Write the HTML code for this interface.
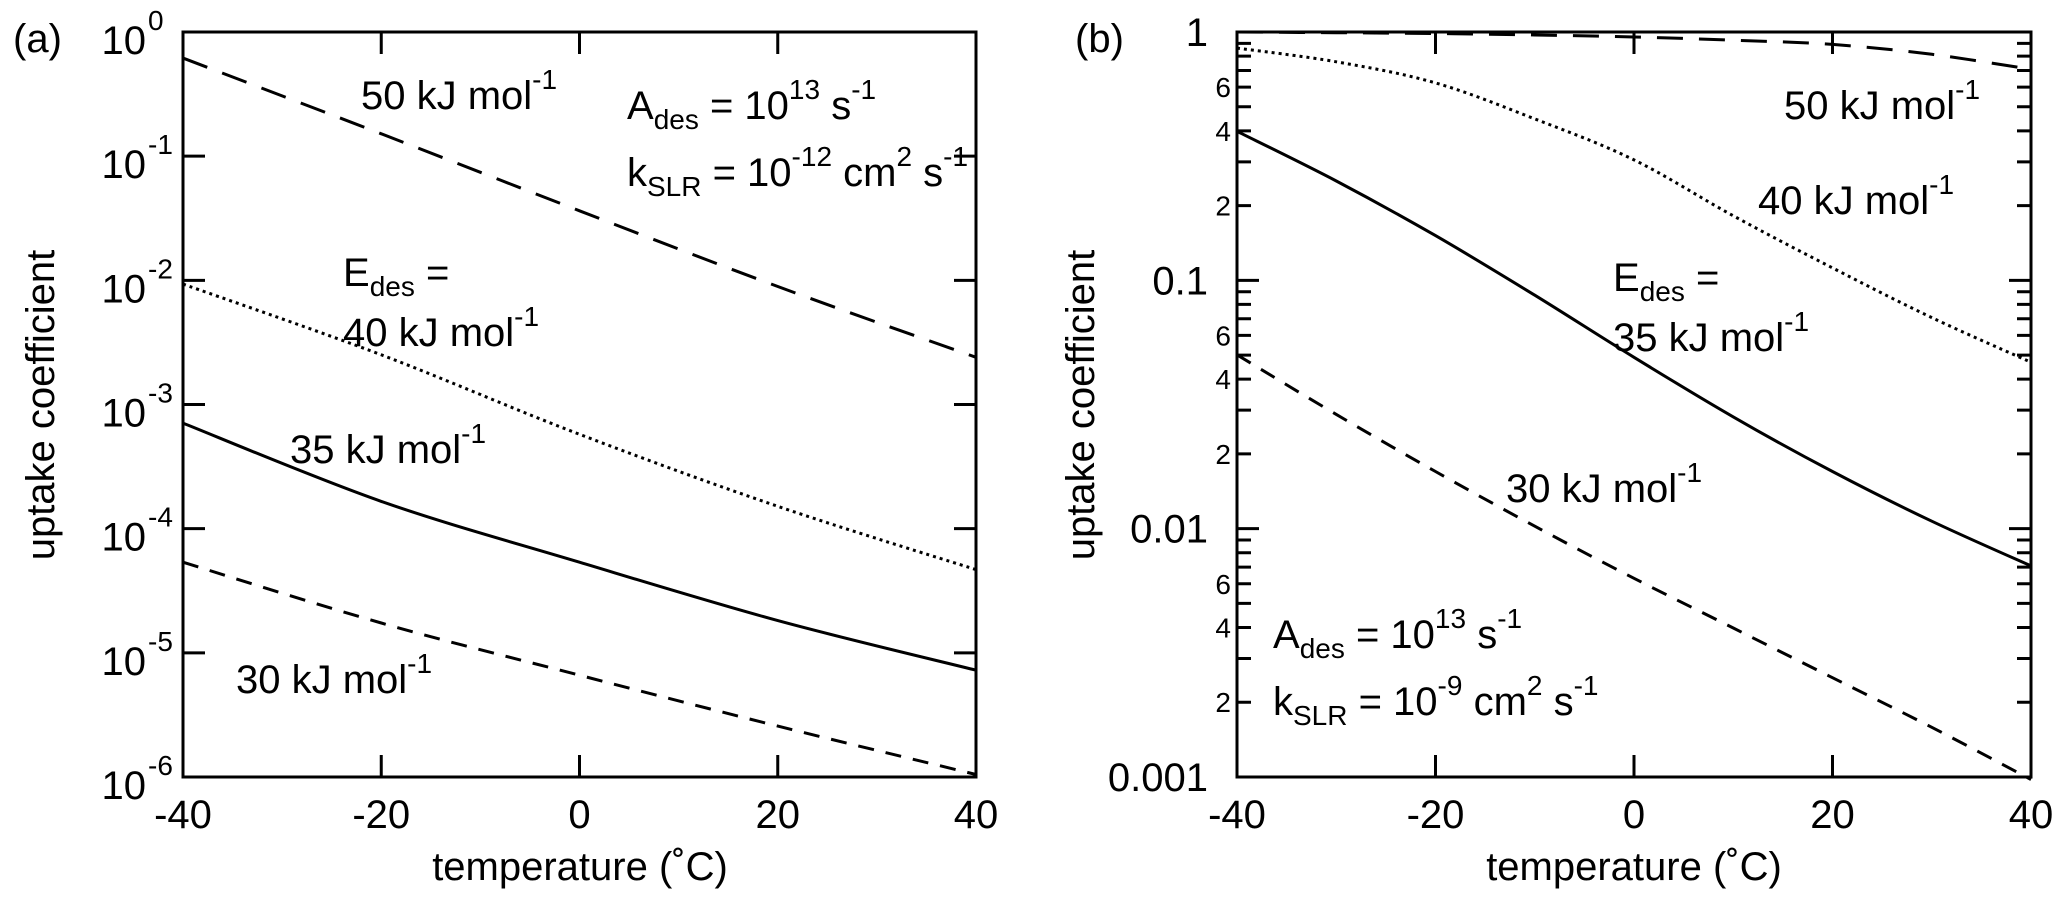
<!DOCTYPE html>
<html><head><meta charset="utf-8"><style>
html,body{margin:0;padding:0;background:#fff;}
svg{display:block;font-family:"Liberation Sans",sans-serif;}
</style></head><body>
<svg id="chart" width="2067" height="900" viewBox="0 0 2067 900" xmlns="http://www.w3.org/2000/svg"></svg>
<script>
// ---- data ----
const temps = [-40, -20, 0, 20, 40];
const aE50 = [-0.21, -0.82, -1.44, -2.05, -2.62];
const aE40 = [-2.03, -2.60, -3.24, -3.82, -4.33];
const aE35 = [-3.15, -3.78, -4.27, -4.74, -5.14];
const aE30 = [-4.27, -4.76, -5.18, -5.59, -5.98];
const bTemps = [-40, -30, -20, -10, 0, 10, 20, 30, 40];
const bE50 = [0.0, -0.003, -0.006, -0.012, -0.02, -0.033, -0.05, -0.09, -0.15];
const bE40 = [-0.065, -0.12, -0.205, -0.35, -0.515, -0.74, -0.95, -1.15, -1.33];
const bE35 = [-0.40, -0.60, -0.82, -1.06, -1.31, -1.55, -1.77, -1.97, -2.15];
const bE30 = [-1.30, -1.54, -1.77, -1.99, -2.20, -2.40, -2.60, -2.80, -3.01];
const xTicks = [-40, -20, 0, 20, 40];
const aYExp = [0, -1, -2, -3, -4, -5, -6];
const bYMajor = [0, -1, -2, -3];
const bYMajorLabels = ["1", "0.1", "0.01", "0.001"];
const bMinorMult = [2, 3, 4, 5, 6, 7, 8, 9];
const bMinorLabeled = [2, 4, 6];

const NS = "http://www.w3.org/2000/svg";
const svg = document.getElementById("chart");
function mk(tag, attrs, parent) {
  const e = document.createElementNS(NS, tag);
  for (const k in attrs) if (attrs[k] !== null && attrs[k] !== undefined) e.setAttribute(k, attrs[k]);
  (parent || svg).appendChild(e);
  return e;
}
function panel(cfg) {
  const g = mk("g", {});
  
  
  const X = t => cfg.x0 + (t + 40) / 80 * (cfg.x1 - cfg.x0);
  const Y = lg => cfg.y0 + (cfg.top - lg) / (cfg.top - cfg.bot) * (cfg.y1 - cfg.y0);
  const fr = mk("rect", {x: cfg.x0, y: cfg.y0, width: cfg.x1 - cfg.x0, height: cfg.y1 - cfg.y0, fill: "none", stroke: "#000", "stroke-width": 3}, g);
  
  
  xTicks.forEach(t => {
    const x = X(t);
    const tk = mk("path", {d: `M${x},${cfg.y1}V${cfg.y1 - 22}M${x},${cfg.y0}V${cfg.y0 + 22}`, stroke: "#000", "stroke-width": 3}, g);
    
    
    const lb = mk("text", {x: x, y: 828, "font-size": 40, "text-anchor": "middle"}, g);
    lb.textContent = String(t);
    
    
  });
  return {g, X, Y};
}
function curve(p, ts, vals, dash, name, w) {
  const pts = ts.map((t, i) => [p.X(t), p.Y(vals[i])]);
  let d = "M" + pts[0][0] + "," + pts[0][1];
  for (let i = 0; i < pts.length - 1; i++) {
    const p0 = pts[Math.max(0, i - 1)], p1 = pts[i], p2 = pts[i + 1], p3 = pts[Math.min(pts.length - 1, i + 2)];
    const c1 = [p1[0] + (p2[0] - p0[0]) / 6, p1[1] + (p2[1] - p0[1]) / 6];
    const c2 = [p2[0] - (p3[0] - p1[0]) / 6, p2[1] - (p3[1] - p1[1]) / 6];
    d += `C${c1[0].toFixed(1)},${c1[1].toFixed(1)} ${c2[0].toFixed(1)},${c2[1].toFixed(1)} ${p2[0].toFixed(1)},${p2[1].toFixed(1)}`;
  }
  const e = mk("path", {d: d, fill: "none", stroke: "#000", "stroke-width": w || 3, "stroke-dasharray": dash}, p.g);
  
  
}
function rich(parent, x, y, parts, name, anchor) {
  const t = mk("text", {x: x, y: y, "font-size": 40, "text-anchor": anchor || "start"}, parent);
  
  
  parts.forEach(pt => {
    const s = mk("tspan", {}, t);
    if (pt[1] === "sup") { s.setAttribute("font-size", 28); s.setAttribute("dy", -20); }
    else if (pt[1] === "sub") { s.setAttribute("font-size", 28); s.setAttribute("dy", 10); }
    else if (pt[1] === "back") { s.setAttribute("dy", 20); }
    else if (pt[1] === "back2") { s.setAttribute("dy", -10); }
    s.textContent = pt[0];
  });
  return t;
}

// ---- panel a ----
const A = panel({name: "panel-a", x0: 183, x1: 976, y0: 32, y1: 777, top: 0, bot: -6});
aYExp.forEach(e => {
  const y = A.Y(e);
  const tk = mk("path", {d: `M183,${y}H205M976,${y}H954`, stroke: "#000", "stroke-width": 3}, A.g);
  
  
  rich(A.g, 146, y + 22, [["10", ""]], "y-tick-label", "end");
  const s = mk("text", {x: 148, y: y - 2, "font-size": 28}, A.g);
  s.textContent = String(e);
  
  
});
curve(A, temps, aE50, "26,16", "series-50kj-a");
curve(A, temps, aE40, "3,4", "series-40kj-a", 3);
curve(A, temps, aE35, null, "series-35kj-a");
curve(A, temps, aE30, "16,12", "series-30kj-a");
rich(A.g, 361, 109, [["50 kJ mol", ""], ["-1", "sup"]], "label-50kj-a");
rich(A.g, 627, 119, [["A", ""], ["des", "sub"], [" = 10", "back2"], ["13", "sup"], [" s", "back"], ["-1", "sup"]], "label-ades-a");
rich(A.g, 627, 186, [["k", ""], ["SLR", "sub"], [" = 10", "back2"], ["-12", "sup"], [" cm", "back"], ["2", "sup"], [" s", "back"], ["-1", "sup"]], "label-kslr-a");
rich(A.g, 343, 286, [["E", ""], ["des", "sub"], [" =", "back2"]], "label-edes-a");
rich(A.g, 343, 346, [["40 kJ mol", ""], ["-1", "sup"]], "label-40kj-a");
rich(A.g, 290, 463, [["35 kJ mol", ""], ["-1", "sup"]], "label-35kj-a");
rich(A.g, 236, 693, [["30 kJ mol", ""], ["-1", "sup"]], "label-30kj-a");
rich(svg, 13, 52, [["(a)", ""]], "panel-a-label");
const yla = mk("text", {x: 0, y: 0, "font-size": 40, "text-anchor": "middle", transform: "translate(54,405) rotate(-90)"});
yla.textContent = "uptake coefficient";


const xla = mk("text", {x: 580, y: 880, "font-size": 40, "text-anchor": "middle"});
xla.textContent = "temperature (˚C)";



// ---- panel b ----
const B = panel({name: "panel-b", x0: 1237, x1: 2031, y0: 32, y1: 777, top: 0, bot: -3});
bYMajor.forEach((e, i) => {
  const y = B.Y(e);
  const tk = mk("path", {d: `M1237,${y}H1259M2031,${y}H2009`, stroke: "#000", "stroke-width": 3}, B.g);
  
  
  const t = mk("text", {x: 1208, y: y + 14, "font-size": 40, "text-anchor": "end"}, B.g);
  t.textContent = bYMajorLabels[i];
  
  
  if (e > -3) {
    bMinorMult.forEach(m => {
      const yy = B.Y(e - 1 + Math.log10(m));
      const mt = mk("path", {d: `M1237,${yy}H1251M2031,${yy}H2017`, stroke: "#000", "stroke-width": 3}, B.g);
      
      
      if (bMinorLabeled.includes(m)) {
        const ml = mk("text", {x: 1231, y: yy + 10, "font-size": 28, "text-anchor": "end"}, B.g);
        ml.textContent = String(m);
        
        
      }
    });
  }
});
curve(B, bTemps, bE50, "26,16", "series-50kj-b");
curve(B, bTemps, bE40, "3,4", "series-40kj-b", 3);
curve(B, bTemps, bE35, null, "series-35kj-b");
curve(B, bTemps, bE30, "16,12", "series-30kj-b");
rich(B.g, 1784, 119, [["50 kJ mol", ""], ["-1", "sup"]], "label-50kj-b");
rich(B.g, 1758, 214, [["40 kJ mol", ""], ["-1", "sup"]], "label-40kj-b");
rich(B.g, 1613, 291, [["E", ""], ["des", "sub"], [" =", "back2"]], "label-edes-b");
rich(B.g, 1613, 351, [["35 kJ mol", ""], ["-1", "sup"]], "label-35kj-b");
rich(B.g, 1506, 502, [["30 kJ mol", ""], ["-1", "sup"]], "label-30kj-b");
rich(B.g, 1273, 648, [["A", ""], ["des", "sub"], [" = 10", "back2"], ["13", "sup"], [" s", "back"], ["-1", "sup"]], "label-ades-b");
rich(B.g, 1273, 715, [["k", ""], ["SLR", "sub"], [" = 10", "back2"], ["-9", "sup"], [" cm", "back"], ["2", "sup"], [" s", "back"], ["-1", "sup"]], "label-kslr-b");
rich(svg, 1075, 52, [["(b)", ""]], "panel-b-label");
const ylb = mk("text", {x: 0, y: 0, "font-size": 40, "text-anchor": "middle", transform: "translate(1094,405) rotate(-90)"});
ylb.textContent = "uptake coefficient";


const xlb = mk("text", {x: 1634, y: 880, "font-size": 40, "text-anchor": "middle"});
xlb.textContent = "temperature (˚C)";


</script>
</body></html>
